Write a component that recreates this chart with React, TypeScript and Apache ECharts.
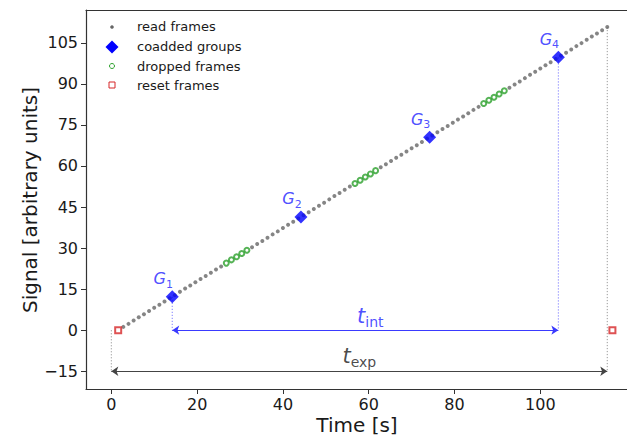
import React, { useEffect, useRef } from 'react';
import * as echarts from 'echarts';

// Frames that are read and kept (4 groups of 20 frames)
const readTimes = [
  2.8, 4.0, 5.2, 6.4, 7.6, 8.8, 10.0, 11.2, 12.4, 13.6, 14.8, 16.0, 17.2, 18.4, 19.6, 20.8, 22.0, 23.2, 24.4, 25.6,
  32.8, 34.0, 35.2, 36.4, 37.6, 38.8, 40.0, 41.2, 42.4, 43.6, 44.8, 46.0, 47.2, 48.4, 49.6, 50.8, 52.0, 53.2, 54.4, 55.6,
  62.8, 64.0, 65.2, 66.4, 67.6, 68.8, 70.0, 71.2, 72.4, 73.6, 74.8, 76.0, 77.2, 78.4, 79.6, 80.8, 82.0, 83.2, 84.4, 85.6,
  92.8, 94.0, 95.2, 96.4, 97.6, 98.8, 100.0, 101.2, 102.4, 103.6, 104.8, 106.0, 107.2, 108.4, 109.6, 110.8, 112.0, 113.2, 114.4, 115.6,
];
const readSignals = [
  1.2, 2.3, 3.5, 4.7, 5.8, 7.0, 8.2, 9.3, 10.5, 11.7, 12.8, 14.0, 15.2, 16.3, 17.5, 18.7, 19.8, 21.0, 22.2, 23.3,
  30.3, 31.5, 32.6, 33.8, 35.0, 36.1, 37.3, 38.5, 39.6, 40.8, 42.0, 43.1, 44.3, 45.5, 46.6, 47.8, 49.0, 50.1, 51.3, 52.5,
  59.5, 60.6, 61.8, 63.0, 64.1, 65.3, 66.5, 67.6, 68.8, 70.0, 71.1, 72.3, 73.5, 74.6, 75.8, 77.0, 78.1, 79.3, 80.5, 81.6,
  88.6, 89.8, 90.9, 92.1, 93.3, 94.4, 95.6, 96.8, 97.9, 99.1, 100.3, 101.4, 102.6, 103.8, 104.9, 106.1, 107.3, 108.4, 109.6, 110.8,
];

// Frames dropped between groups
const dropTimes = [26.8, 28.0, 29.2, 30.4, 31.6, 56.8, 58.0, 59.2, 60.4, 61.6, 86.8, 88.0, 89.2, 90.4, 91.6];
const dropSignals = [24.5, 25.7, 26.8, 28.0, 29.2, 53.6, 54.8, 56.0, 57.1, 58.3, 82.8, 84.0, 85.1, 86.3, 87.5];

// Reset frames
const resetTimes = [1.6, 116.8];
const resetSignals = [0, 0];

// Averaged groups
const groupTimes = [14.2, 44.2, 74.2, 104.2];
const groupSignals = [12.2, 41.4, 70.5, 99.7];
const groupNames = ['1', '2', '3', '4'];

// Exposure / integration spans
const expStart = 0;
const expEnd = 115.6;
const expLevel = -15;
const lastReadSignal = 110.8;
const intLevel = 0;

// Axis ticks
const xTicks = [0, 20, 40, 60, 80, 100];
const yTicks = [-15, 0, 15, 30, 45, 60, 75, 90, 105];

const FONT = 'DejaVu Sans';
const AXIS_COLOR = '#333';
const DOT_DASH = [1.2, 1.8];

const zip = (a: number[], b: number[]) => a.map((v, i) => [v, b[i]]);

export default function App() {
  const ref = useRef<HTMLDivElement>(null);

  useEffect(() => {
    const chart = echarts.init(ref.current!, null, { renderer: 'svg' });

    const fmtNum = (v: number) => (v < 0 ? '\u2212' + Math.abs(v) : String(v));

    const guide = (pts: number[][], color: string) => ({
      type: 'line',
      data: pts,
      symbol: 'none',
      silent: true,
      z: 1,
      lineStyle: { color, width: 1, type: DOT_DASH },
    });

    const spanLabel = (pt: number[], sub: string, color: string, offset: number[]) => ({
      type: 'scatter',
      silent: true,
      data: [pt],
      symbolSize: 0,
      itemStyle: { color: 'transparent' },
      z: 5,
      label: {
        show: true,
        position: 'inside',
        offset,
        formatter: `{t|t}{s|${sub}}`,
        rich: {
          t: { fontFamily: FONT, fontStyle: 'italic', fontSize: 21, lineHeight: 26, color },
          s: { fontFamily: FONT, fontSize: 14, lineHeight: 16, color, verticalAlign: 'bottom' },
        },
      },
    });

    const option: any = {
      animation: false,
      grid: { left: 86, top: 10, right: 0, bottom: 47, containLabel: false, outerBoundsMode: 'none' },
      xAxis: [
        {
          type: 'value',
          min: -5.9,
          max: 120.2,
          axisLine: { show: true, onZero: false, lineStyle: { color: AXIS_COLOR, width: 1.2 } },
          axisTick: { show: true, length: 5, customValues: xTicks, lineStyle: { color: AXIS_COLOR } },
          axisLabel: {
            customValues: xTicks,
            margin: 7,
            fontFamily: FONT,
            fontSize: 16,
            color: '#1a1a1a',
            formatter: fmtNum,
          },
          splitLine: { show: false },
        },
        {
          type: 'value',
          position: 'top',
          min: -5.9,
          max: 120.2,
          axisLine: { show: true, onZero: false, lineStyle: { color: AXIS_COLOR, width: 1.2 } },
          axisTick: { show: false },
          axisLabel: { show: false },
          splitLine: { show: false },
        },
      ],
      yAxis: {
        type: 'value',
        min: -21.5,
        max: 117.0,
        axisLine: { show: true, onZero: false, lineStyle: { color: AXIS_COLOR, width: 1.2 } },
        axisTick: { show: true, length: 5, customValues: yTicks, lineStyle: { color: AXIS_COLOR } },
        axisLabel: {
          customValues: yTicks,
          margin: 8,
          fontFamily: FONT,
          fontSize: 16,
          color: '#1a1a1a',
          formatter: fmtNum,
        },
        splitLine: { show: false },
      },
      series: [
        guide([[expStart, intLevel], [expStart, expLevel]], '#999'),
        guide([[expEnd, lastReadSignal], [expEnd, expLevel]], '#999'),
        guide([[groupTimes[0], groupSignals[0]], [groupTimes[0], intLevel]], '#7b7bff'),
        guide([[groupTimes[3], groupSignals[3]], [groupTimes[3], intLevel]], '#7b7bff'),
        {
          type: 'line',
          data: [],
          silent: true,
          markLine: {
            silent: true,
            symbol: ['arrow', 'arrow'],
            symbolSize: 7,
            label: { show: false },
            emphasis: { disabled: true },
            data: [
              [
                { coord: [groupTimes[0], intLevel], lineStyle: { color: '#3a3aff', width: 1.2, type: 'solid' }, itemStyle: { color: '#3a3aff' } },
                { coord: [groupTimes[3], intLevel] },
              ],
              [
                { coord: [expStart, expLevel], lineStyle: { color: '#444', width: 1.2, type: 'solid' }, itemStyle: { color: '#444' } },
                { coord: [expEnd, expLevel] },
              ],
            ],
          },
        },
        {
          name: 'read frames',
          type: 'scatter',
          data: zip(readTimes, readSignals),
          symbol: 'circle',
          symbolSize: 4,
          itemStyle: { color: '#666' },
          z: 3,
        },
        {
          name: 'dropped frames',
          type: 'scatter',
          data: zip(dropTimes, dropSignals),
          symbol: 'emptyCircle',
          symbolSize: 5,
          itemStyle: { color: '#2ca02c', borderWidth: 1 },
          z: 3,
        },
        {
          name: 'reset frames',
          type: 'scatter',
          data: zip(resetTimes, resetSignals),
          symbol: 'emptyRect',
          symbolSize: 6,
          itemStyle: { color: '#d62728', borderWidth: 1 },
          z: 3,
        },
        {
          name: 'coadded groups',
          type: 'scatter',
          data: zip(groupTimes, groupSignals),
          symbol: 'diamond',
          symbolSize: 13,
          itemStyle: { color: '#0000ff' },
          z: 4,
          label: {
            show: true,
            position: 'inside',
            offset: [-9, -18],
            formatter: (p: any) => `{g|G}{s|${groupNames[p.dataIndex]}}`,
            rich: {
              g: { fontFamily: FONT, fontStyle: 'italic', fontSize: 16, lineHeight: 22, color: '#2222ff' },
              s: { fontFamily: FONT, fontSize: 11, lineHeight: 12, color: '#2222ff', verticalAlign: 'bottom' },
            },
          },
        },
        spanLabel([(groupTimes[0] + groupTimes[3]) / 2, intLevel], 'int', '#2222ff', [5, -14]),
        spanLabel([(expStart + expEnd) / 2, expLevel], 'exp', '#1a1a1a', [0, -15]),
      ],
      graphic: [
        // axis titles
        {
          type: 'text',
          x: 357,
          y: 435,
          silent: true,
          style: {
            text: 'Time [s]',
            fontFamily: FONT,
            fontSize: 20,
            fill: '#1a1a1a',
            textAlign: 'center',
            textVerticalAlign: 'bottom',
          },
        },
        {
          type: 'text',
          x: 30,
          y: 200,
          rotation: Math.PI / 2,
          silent: true,
          style: {
            text: 'Signal [arbitrary units]',
            fontFamily: FONT,
            fontSize: 20,
            fill: '#1a1a1a',
            textAlign: 'center',
            textVerticalAlign: 'middle',
          },
        },
        // legend
        { type: 'circle', shape: { cx: 112, cy: 27, r: 1.8 }, style: { fill: '#666' }, silent: true },
        {
          type: 'polygon',
          shape: { points: [[112, 40.5], [118.5, 47], [112, 53.5], [105.5, 47]] },
          style: { fill: '#0000ff' },
          silent: true,
        },
        { type: 'circle', shape: { cx: 112, cy: 66, r: 2.5 }, style: { fill: 'none', stroke: '#2ca02c', lineWidth: 1 }, silent: true },
        { type: 'rect', shape: { x: 109, y: 82, width: 6, height: 6 }, style: { fill: 'none', stroke: '#d62728', lineWidth: 1 }, silent: true },
        ...[
          ['read frames', 26],
          ['coadded groups', 46],
          ['dropped frames', 66],
          ['reset frames', 85],
        ].map(([txt, y]) => ({
          type: 'text',
          x: 137,
          y: y as number,
          silent: true,
          style: {
            text: txt as string,
            fontFamily: FONT,
            fontSize: 13,
            fill: '#1a1a1a',
            textAlign: 'left',
            textVerticalAlign: 'middle',
          },
        })),
      ],
    };

    chart.setOption(option);
    return () => chart.dispose();
  }, []);

  return (
    <div
      ref={ref}
      style={{ position: 'fixed', left: 0, top: 0, width: 627, height: 436, background: '#fff' }}
    />
  );
}
